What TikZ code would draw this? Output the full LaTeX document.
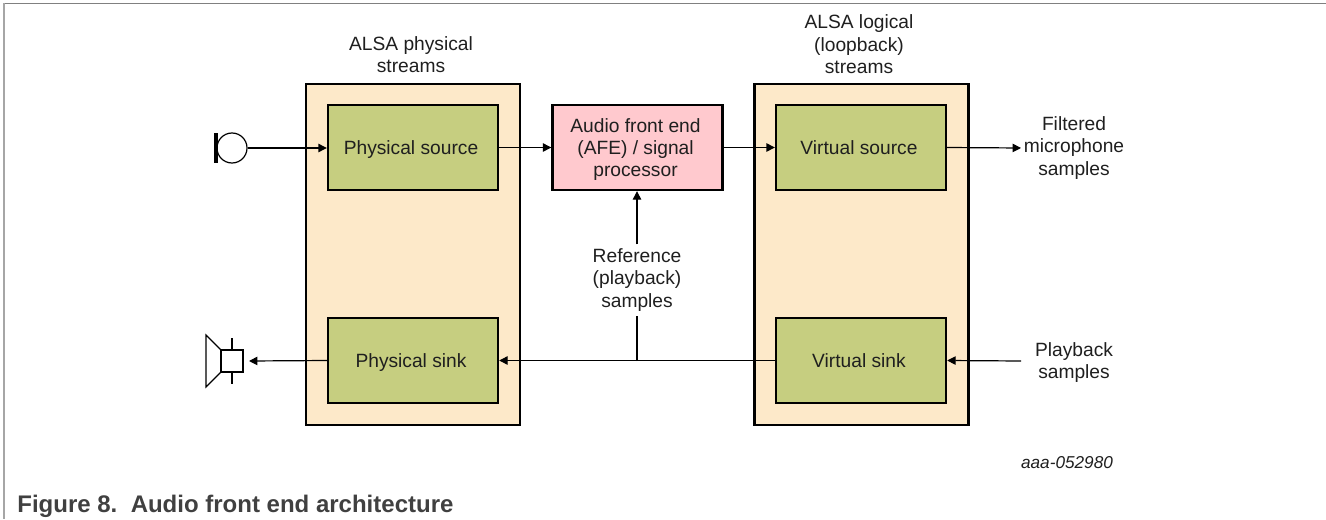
\documentclass[tikz,border=0pt]{standalone}
\usepackage{fontspec}
\setmainfont{Liberation Sans}
\usepackage{xcolor}
\usetikzlibrary{positioning, calc, arrows.meta}

\definecolor{StreamTan}{HTML}{FDE9C9}
\definecolor{BlockGreen}{HTML}{C6CE80}
\definecolor{AfePink}{HTML}{FFC9CE}
\colorlet{InkGray}{black!88}

\newcommand{\nudge}{\kern2pt}

\tikzset{
    every node/.style={font=\fontsize{9.6}{11.2}\selectfont, align=center, text=InkGray},
    streambox/.style={draw=black, line width=1.2pt, fill=StreamTan, minimum width=107pt, minimum height=170.5pt, inner sep=0pt},
    block/.style={draw=black, line width=1.2pt, fill=BlockGreen, minimum width=85pt, minimum height=42.5pt, inner sep=0pt, text depth=0pt},
    link/.style={line width=0.6pt, -{Triangle[length=4.2pt, width=4.2pt]}},
    plainlink/.style={line width=0.6pt},
    icon/.style={line width=0.6pt}
}

\begin{document}
\begin{tikzpicture}[x=0.5pt, y=-0.5pt]
    \useasboundingbox (0,0) rectangle (1326,519);

    % page frame
    \draw[gray, line width=0.8pt] (4,3.5) to (1326,3.5);
    \draw[gray!70, line width=0.6pt] (4,3.5) to (4,519);

    \node[streambox] (physical) at (413,254.5) {};
    \node[streambox] (logical) at (861.5,254.5) {};

    \node[block] (psource) at (413,147.5) {Physical source\nudge};
    \node[block] (psink) at (413,360.5) {Physical sink\nudge};
    \node[block] (vsource) at (861,147.5) {Virtual source\nudge};
    \node[block] (vsink) at (861,360.5) {Virtual sink\nudge};
    \node[block, fill=AfePink] (afe) at (637.5,147.5) {Audio front end\nudge\\(AFE) / signal\nudge\\processor\nudge};

    \node (physlabel) at (411,54.5) {ALSA physical\\streams};
    \node (logilabel) at (859,44.5) {ALSA logical\\(loopback)\\streams};
    \node[inner ysep=2pt] (reflabel) at (637,280) {Reference\\(playback)\\samples};
    \node (filtered) at (1074,148) {Filtered\\microphone\\samples};
    \node (playback) at (1074,362.5) {Playback\\samples};
    \node[font=\fontsize{8.6}{10}\selectfont\itshape] (figid) at (1067,463) {aaa-052980};
    \node[anchor=west, inner sep=0pt, text=black!75, font=\fontsize{12}{14}\selectfont\bfseries] (caption) at (17,506) {Figure 8.\ \ Audio front end architecture};

    % microphone
    \node[draw, circle, icon, minimum size=15pt, inner sep=0pt] (mic) at (232,148) {};
    \fill (214,133) rectangle (218,163);

    % speaker
    \node[draw, icon, minimum size=11pt, inner sep=0pt] (spk) at (232,361) {};
    \draw[icon] (spk.north west) -- (206,335) -- (206,387) -- (spk.south west);
    \draw[icon] (spk.north) -- ++(0,-11);
    \draw[icon] (spk.south) -- ++(0,11);

    \coordinate (tee) at (637,361);
    \coordinate (spkend) at (249,361);
    \coordinate (filtend) at (1021,148);
    \coordinate (playend) at (1021,361);

    \draw[link] (mic.east) to (psource.west |- mic.east);
    \draw[link] (psource.east) to (afe.west);
    \draw[link] (afe.east) to (vsource.west);
    \draw[link] (vsource.east) to (filtend);
    \draw[link] (playend) to (vsink.east);
    \draw[link] (vsink.west) to (psink.east);
    \draw[link] (psink.west) to (spkend);
    \draw[plainlink] (tee) to (reflabel.south);
    \draw[link] (reflabel.north) to (afe.south -| reflabel.north);
\end{tikzpicture}
\end{document}
